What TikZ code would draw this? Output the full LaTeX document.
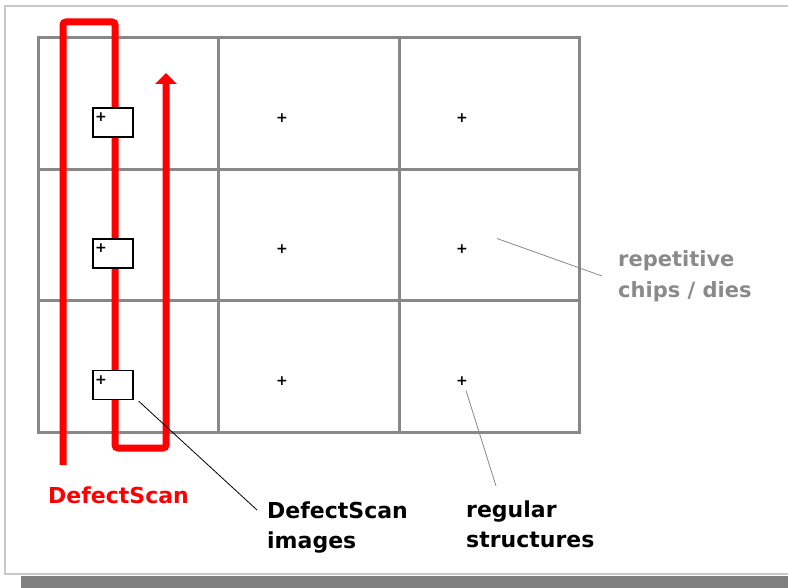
\documentclass[tikz,border=0pt]{standalone}
\usepackage{fontspec}
\setmainfont{DejaVu Sans}
\usetikzlibrary{arrows.meta,calc}
\definecolor{gridgray}{HTML}{888888}
\definecolor{labelgray}{HTML}{8A8A8A}
\definecolor{framegray}{HTML}{C8C8C8}
\definecolor{shadowgray}{HTML}{808080}
\begin{document}
\begin{tikzpicture}[x=1pt,y=-1pt,
  gridline/.style={draw=gridgray,line width=3pt},
  scanpath/.style={draw=red,line width=7pt,rounded corners=3pt},
  imgbox/.style={draw=black,line width=1.3pt,fill=white,minimum width=40pt,minimum height=29pt,inner sep=0pt},
  plusmark/.style={inner sep=0pt,font=\fontsize{14}{14}\selectfont\bfseries},
  leader/.style={line width=0.8pt},
  biglabel/.style={anchor=north west,inner sep=0pt,align=left,font=\fontsize{22}{30}\selectfont\bfseries},
  graylabel/.style={anchor=north west,inner sep=0pt,align=left,text=labelgray,font=\fontsize{21}{31}\selectfont\bfseries}]
\useasboundingbox (0,0) rectangle (788,588);
% frame and shadow
\fill[shadowgray] (21,576) rectangle (788,588);
\draw[framegray,line width=1.5pt] (790,6) -- (5,6) -- (5,574) -- (790,574);
% grid
\draw[gridline] (38,38) rectangle (579,432);
\draw[gridline] (218,38) -- (218,432);
\draw[gridline] (399,38) -- (399,432);
\draw[gridline] (38,170) -- (579,170);
\draw[gridline] (38,301) -- (579,301);
% scan path
\coordinate (s0) at (63,465);
\coordinate (s1) at (63,22);
\coordinate (s2) at (115,22);
\coordinate (s3) at (115,448);
\coordinate (s4) at (166,448);
\coordinate (s5) at (166,73);
\draw[scanpath,-{Triangle[width=21pt,length=11pt]}] (s0) -- (s1) -- (s2) -- (s3) -- (s4) -- (s5);
% image boxes
\node[imgbox] (b1) at (113,122.5) {};
\node[imgbox] (b2) at (113,253.5) {};
\node[imgbox] (b3) at (113,385) {};
\node[plusmark] (q1) at (101,117.5) {+};
\node[plusmark] (q2) at (101,248.5) {+};
\node[plusmark] (q3) at (101,380.5) {+};
% plus marks in other dies
\node[plusmark] (p12) at (282,118.5) {+};
\node[plusmark] (p13) at (462,118.5) {+};
\node[plusmark] (p22) at (282,249.5) {+};
\node[plusmark] (p23) at (462,249.5) {+};
\node[plusmark] (p32) at (282,381.5) {+};
\node[plusmark] (p33) at (462,381.5) {+};
% labels
\node[biglabel,text=red] (ds) at (48,487) {DefectScan};
\node[biglabel] (dsi) at (267,502) {DefectScan\\images};
\node[biglabel] (reg) at (466,501) {regular\\structures};
\node[graylabel] (rep) at (618,250) {repetitive\\chips / dies};
% leaders
\coordinate (l1a) at ($(b3.south east)+(5,1)$);
\coordinate (l1b) at (257,510);
\draw[leader,black] (l1a) -- (l1b);
\coordinate (l2a) at ($(p33)+(4,9)$);
\coordinate (l2b) at (496,486);
\draw[leader,gridgray] (l2a) -- (l2b);
\coordinate (l3a) at ($(p23)+(35,-11)$);
\coordinate (l3b) at (602,276);
\draw[leader,gridgray] (l3a) -- (l3b);
\end{tikzpicture}
\end{document}
